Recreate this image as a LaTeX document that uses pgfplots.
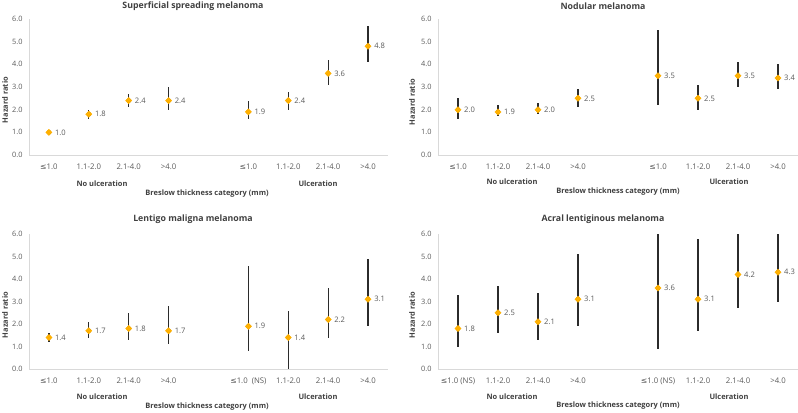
\documentclass[border=0pt]{standalone}
\usepackage{pgfplots}
\pgfplotsset{compat=1.18}
\usepackage{pgfplotstable}
\usepackage{fontspec}
\setmainfont{Open Sans}
\newfontfamily\sym{DejaVu Sans}
\definecolor{mk}{HTML}{FFB000}
\definecolor{tk}{HTML}{595959}
\definecolor{ax}{HTML}{D9D9D9}
\definecolor{lb}{HTML}{404040}
\definecolor{eb}{HTML}{2B2B2B}

\pgfplotstableread{
x y lo hi
0 1.0 1.0 1.0
1 1.8 1.6 2.0
2 2.4 2.1 2.7
3 2.4 2.0 3.0
5 1.9 1.6 2.4
6 2.4 2.0 2.8
7 3.6 3.1 4.2
8 4.8 4.1 5.7
}\ssm
\pgfplotstableread{
x y lo hi
0 2.0 1.6 2.5
1 1.9 1.7 2.2
2 2.0 1.8 2.3
3 2.5 2.1 2.9
5 3.5 2.2 5.5
6 2.5 2.0 3.1
7 3.5 3.0 4.1
8 3.4 2.9 4.0
}\nm
\pgfplotstableread{
x y lo hi
0 1.4 1.2 1.6
1 1.7 1.4 2.1
2 1.8 1.3 2.5
3 1.7 1.1 2.8
5 1.9 0.8 4.6
6 1.4 0.0 2.6
7 2.2 1.4 3.6
8 3.1 1.9 4.9
}\lmm
\pgfplotstableread{
x y lo hi
0 1.8 1.0 3.3
1 2.5 1.6 3.7
2 2.1 1.3 3.4
3 3.1 1.9 5.1
5 3.6 0.9 6.0
6 3.1 1.7 5.8
7 4.2 2.7 6.0
8 4.3 3.0 6.0
}\alm

\newcommand{\lesym}{{\sym ≤}}
\pgfplotsset{
  hr/.style={
    scale only axis,
    xmin=-0.5, xmax=8.5, ymin=0, ymax=6,
    ytick={0,1,2,3,4,5,6},
    xtick={0,1,2,3,5,6,7,8},
    axis x line*=bottom, axis y line*=left,
    axis line style={ax, line width=0.75bp, -},
    major tick length=0,
    /pgf/number format/assume math mode=true,
    tick label style={font=\fontsize{7.4}{8.5}\selectfont, text=tk},
    yticklabel style={/pgf/number format/.cd, fixed, fixed zerofill, precision=1, /tikz/.cd, xshift=-3bp},
    xticklabel style={font=\fontsize{7.8}{9}\selectfont, yshift=-5bp},
  },
  eb/.style={
    only marks, mark=none,
    error bars/.cd, y dir=both, y explicit, error mark=none,
    error bar style={line width=1.3bp, color=eb},
  },
  pt/.style={
    only marks, mark=square*, mark size=2.2bp,
    mark options={fill=mk, draw=mk, rotate=45},
    point meta=explicit symbolic,
    nodes near coords,
    nodes near coords style={anchor=west, font=\fontsize{7.6}{8.5}\selectfont, text=tk, xshift=5bp, inner sep=1bp},
  },
}
\newcommand{\pts}[1]{%
  \addplot[eb] table[x=x, y=y,
  y error plus expr=\thisrow{hi}-\thisrow{y},
  y error minus expr=\thisrow{y}-\thisrow{lo}]{#1};
  \addplot[pt] table[x=x, y=y, meta=y]{#1};}

\tikzset{bl/.style={font=\bfseries\fontsize{7.5}{8.5}\selectfont, text=lb, inner sep=0pt},
         tt/.style={font=\bfseries\fontsize{8.8}{10}\selectfont, text=lb, inner sep=0pt}}

\begin{document}
\begin{tikzpicture}[x=1bp,y=1bp]
\path[use as bounding box] (0,0) rectangle (798,-412);

\begin{axis}[hr, at={(29bp,-155bp)}, anchor=south west, width=359bp, height=136bp,
  xticklabels={\lesym1.0,1.1-2.0,2.1-4.0,>4.0,\lesym1.0,1.1-2.0,2.1-4.0,>4.0}]
\pts{\ssm}
\end{axis}

\begin{axis}[hr, at={(438bp,-155bp)}, anchor=south west, width=360bp, height=136bp,
  xticklabels={\lesym1.0,1.1-2.0,2.1-4.0,>4.0,\lesym1.0,1.1-2.0,2.1-4.0,>4.0}]
\pts{\nm}
\end{axis}

\begin{axis}[hr, at={(29bp,-369bp)}, anchor=south west, width=359bp, height=135bp,
  xticklabels={\lesym1.0,1.1-2.0,2.1-4.0,>4.0,\lesym1.0\ \ (NS),1.1-2.0,2.1-4.0,>4.0}]
\pts{\lmm}
\end{axis}

\begin{axis}[hr, at={(438bp,-369bp)}, anchor=south west, width=360bp, height=135bp,
  xticklabels={\lesym1.0 (NS),1.1-2.0,2.1-4.0,>4.0,\lesym1.0 (NS),1.1-2.0,2.1-4.0,>4.0}]
\pts{\alm}
\end{axis}

% titles
\node[tt] at (193,-6) {Superficial spreading melanoma};
\node[tt] at (603,-6) {Nodular melanoma};
\node[tt] at (193,-219) {Lentigo maligna melanoma};
\node[tt] at (603,-219) {Acral lentiginous melanoma};
% y labels
\node[bl, rotate=90] at (5,-100) {Hazard ratio};
\node[bl, rotate=90] at (412,-102) {Hazard ratio};
\node[bl, rotate=90] at (5,-315) {Hazard ratio};
\node[bl, rotate=90] at (412,-315) {Hazard ratio};
% group labels
\node[bl] at (102,-184) {No ulceration};
\node[bl] at (318,-184) {Ulceration};
\node[bl] at (512,-182) {No ulceration};
\node[bl] at (729,-182) {Ulceration};
\node[bl] at (102,-397) {No ulceration};
\node[bl] at (318,-397) {Ulceration};
\node[bl] at (512,-397) {No ulceration};
\node[bl] at (729,-397) {Ulceration};
% x titles
\node[bl] at (207,-194) {Breslow thickness category (mm)};
\node[bl] at (618,-192) {Breslow thickness category (mm)};
\node[bl] at (207,-407) {Breslow thickness category (mm)};
\node[bl] at (618,-406) {Breslow thickness category (mm)};
\end{tikzpicture}
\end{document}
